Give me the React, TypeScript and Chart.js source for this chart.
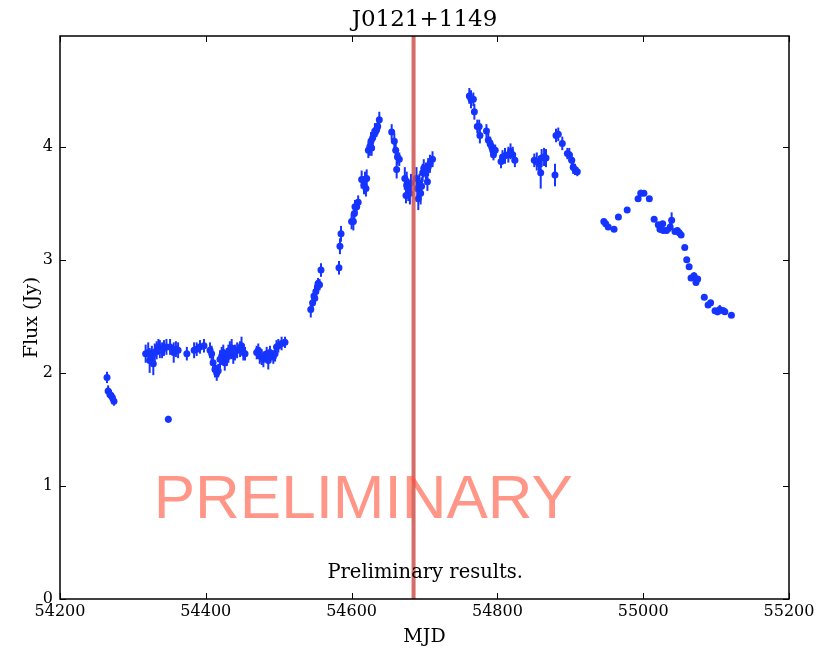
import React, { useEffect, useRef } from "react";
import { Chart, registerables } from "chart.js";

Chart.register(...registerables);

const TITLE = "J0121+1149";
const X_LABEL = "MJD";
const Y_LABEL = "Flux (Jy)";
const X_TICKS = [54200, 54400, 54600, 54800, 55000, 55200];
const Y_TICKS = [0, 1, 2, 3, 4];
const X_MIN = 54200;
const X_MAX = 55200;
const Y_MIN = 0;
const Y_MAX = 4.98;
const MARK_MJD = 54685;
const WATERMARK = "PRELIMINARY";
const WATERMARK_POS = [54616, 0.72];
const NOTE = "Preliminary results.";
const NOTE_POS = [54701, 0.19];

const MJD = [
  54264.5, 54266, 54268.5, 54270, 54272, 54274, 54348.6,
  54317.5, 54321, 54323, 54326, 54328, 54330, 54332.6, 54335, 54337, 54340, 54342.6, 54346, 54351, 54356, 54359, 54362,
  54374, 54384, 54387.5, 54392, 54397.5, 54405.8, 54408, 54410, 54412.6, 54415, 54417, 54419.5, 54421.8, 54424, 54426,
  54428.7, 54431, 54433, 54435.5, 54437.7, 54440, 54443, 54447, 54449, 54451.5, 54453.8,
  54469.8, 54472, 54474, 54476.7, 54479, 54483.5, 54485.7, 54488, 54492.6, 54495, 54497, 54499.5, 54504, 54508.6,
  54544, 54546.6, 54548.4, 54549.5, 54551, 54553, 54554, 54556, 54558, 54582.7, 54584, 54585.5,
  54600, 54602.4, 54603.8, 54604.6, 54607, 54609, 54613.8, 54617, 54618.4, 54619.7, 54620.7,
  54623, 54625, 54626.6, 54627.5, 54629, 54630.7, 54632, 54634.4, 54635.8, 54638,
  54655, 54658.6, 54660.5, 54661.8, 54663, 54665.4,
  54673, 54674.6, 54675.6, 54677.8, 54680, 54681.5, 54689, 54690, 54691.5, 54693, 54694.7, 54696, 54697.5, 54699,
  54702, 54704, 54705, 54707.5, 54711,
  54761.5, 54763.8, 54767, 54768.4, 54772.4, 54775, 54776, 54785, 54787.5, 54790, 54792, 54793.6, 54794.6, 54797,
  54805, 54807, 54810.4, 54815, 54818, 54821, 54824,
  54850.6, 54854, 54857, 54859.4, 54860.7, 54864, 54866.7, 54879, 54880.4, 54883.5, 54889, 54896, 54898.6, 54902,
  54904, 54906.4, 54909.6,
  54946, 54948.5, 54952, 54960, 54966, 54978, 54993, 54996.6, 55001, 55008.4, 55015, 55020.7, 55023, 55026.7, 55027.5,
  55032, 55037, 55039, 55043.6, 55046.8, 55049.5, 55052, 55057, 55059.7, 55063, 55065.6, 55069.7, 55072.4, 55074.7,
  55083.8, 55089, 55092.5, 55098.5, 55102, 55105, 55110, 55112, 55121,
];

const FLUX = [
  1.96, 1.84, 1.81, 1.80, 1.78, 1.75, 1.59,
  2.17, 2.18, 2.11, 2.15, 2.08, 2.18, 2.20, 2.23, 2.21, 2.20, 2.22, 2.23, 2.23, 2.18, 2.21, 2.20,
  2.17, 2.20, 2.21, 2.23, 2.24, 2.20, 2.17, 2.09, 2.03, 2.00, 2.02, 2.12, 2.15, 2.18, 2.09,
  2.14, 2.17, 2.20, 2.22, 2.15, 2.18, 2.20, 2.21, 2.24, 2.18, 2.17,
  2.18, 2.20, 2.15, 2.14, 2.12, 2.17, 2.11, 2.18, 2.14, 2.17, 2.23, 2.24, 2.26, 2.27,
  2.56, 2.62, 2.68, 2.66, 2.72, 2.76, 2.79, 2.78, 2.91, 2.93, 3.12, 3.23,
  3.34, 3.34, 3.41, 3.47, 3.47, 3.51, 3.71, 3.66, 3.71, 3.63, 3.72,
  3.97, 4.00, 4.05, 3.99, 4.08, 4.11, 4.14, 4.15, 4.18, 4.24,
  4.13, 4.05, 3.97, 3.80, 3.91, 3.89,
  3.72, 3.57, 3.66, 3.62, 3.59, 3.68, 3.72, 3.63, 3.54, 3.68, 3.59, 3.65, 3.77, 3.81,
  3.78, 3.69, 3.82, 3.85, 3.89,
  4.45, 4.42, 4.42, 4.31, 4.18, 4.18, 4.10, 4.14, 4.06, 4.03, 4.00, 3.97, 3.93, 3.97,
  3.87, 3.91, 3.92, 3.93, 3.96, 3.93, 3.88,
  3.88, 3.87, 3.85, 3.77, 3.90, 3.91, 3.90, 3.75, 4.10, 4.11, 4.03, 3.94, 3.93, 3.88,
  3.82, 3.80, 3.78,
  3.34, 3.32, 3.29, 3.27, 3.38, 3.44, 3.54, 3.59, 3.59, 3.54, 3.36, 3.31, 3.27, 3.32, 3.26,
  3.26, 3.29, 3.35, 3.25, 3.26, 3.24, 3.22, 3.11, 3.00, 2.94, 2.84, 2.86, 2.80, 2.83,
  2.67, 2.60, 2.62, 2.55, 2.54, 2.56, 2.55, 2.54, 2.51,
];

const ERR = [
  0.05, 0.05, 0.04, 0.05, 0.04, 0.04, 0.03,
  0.08, 0.09, 0.11, 0.09, 0.10, 0.08, 0.08, 0.07, 0.08, 0.07, 0.07, 0.07, 0.07, 0.09, 0.07, 0.07,
  0.06, 0.07, 0.06, 0.06, 0.06, 0.07, 0.07, 0.08, 0.07, 0.07, 0.06, 0.08, 0.08, 0.07, 0.07,
  0.08, 0.08, 0.08, 0.08, 0.07, 0.07, 0.07, 0.07, 0.08, 0.07, 0.06,
  0.06, 0.06, 0.07, 0.07, 0.07, 0.06, 0.08, 0.06, 0.06, 0.07, 0.06, 0.06, 0.06, 0.05,
  0.07, 0.06, 0.06, 0.05, 0.06, 0.06, 0.05, 0.05, 0.06, 0.06, 0.07, 0.07,
  0.07, 0.08, 0.07, 0.06, 0.06, 0.06, 0.08, 0.08, 0.07, 0.07, 0.08,
  0.07, 0.08, 0.08, 0.07, 0.07, 0.06, 0.07, 0.06, 0.07, 0.07,
  0.07, 0.07, 0.07, 0.08, 0.07, 0.06,
  0.10, 0.07, 0.12, 0.10, 0.10, 0.08, 0.10, 0.10, 0.10, 0.08, 0.10, 0.08, 0.08, 0.08,
  0.08, 0.08, 0.08, 0.08, 0.07,
  0.07, 0.08, 0.06, 0.07, 0.06, 0.06, 0.07, 0.06, 0.06, 0.06, 0.06, 0.06, 0.05, 0.05,
  0.06, 0.06, 0.07, 0.07, 0.07, 0.07, 0.06,
  0.06, 0.08, 0.07, 0.14, 0.08, 0.08, 0.08, 0.10, 0.06, 0.06, 0.06, 0.05, 0.06, 0.06,
  0.06, 0.05, 0.04,
  0.02, 0.02, 0.02, 0.02, 0.02, 0.02, 0.02, 0.03, 0.02, 0.02, 0.02, 0.02, 0.03, 0.02, 0.02,
  0.03, 0.04, 0.07, 0.02, 0.02, 0.02, 0.02, 0.02, 0.02, 0.02, 0.02, 0.03, 0.02, 0.02,
  0.02, 0.02, 0.02, 0.02, 0.03, 0.04, 0.03, 0.02, 0.02,
];

const POINT_COLOR = "rgb(22,52,255)";
const SERIF = "'DejaVu Serif', serif";

const decorPlugin = {
  id: "decor",
  beforeDatasetsDraw(chart: any) {
    const { ctx, chartArea, scales } = chart;
    const xs = scales.x;
    const ys = scales.y;
    ctx.save();
    ctx.beginPath();
    ctx.rect(chartArea.left, chartArea.top, chartArea.right - chartArea.left, chartArea.bottom - chartArea.top);
    ctx.clip();
    ctx.strokeStyle = POINT_COLOR;
    ctx.lineWidth = 2;
    for (let i = 0; i < MJD.length; i++) {
      const px = xs.getPixelForValue(MJD[i]);
      const y1 = ys.getPixelForValue(FLUX[i] - ERR[i]);
      const y2 = ys.getPixelForValue(FLUX[i] + ERR[i]);
      ctx.beginPath();
      ctx.moveTo(px, y1);
      ctx.lineTo(px, y2);
      ctx.stroke();
    }
    ctx.restore();
  },
  afterDatasetsDraw(chart: any) {
    const { ctx, chartArea, scales } = chart;
    const xs = scales.x;
    const ys = scales.y;
    ctx.save();
    const lx = xs.getPixelForValue(MARK_MJD);
    ctx.strokeStyle = "rgba(206,82,76,0.85)";
    ctx.lineWidth = 4;
    ctx.beginPath();
    ctx.moveTo(lx, chartArea.top);
    ctx.lineTo(lx, chartArea.bottom);
    ctx.stroke();
    ctx.fillStyle = "rgba(255,80,55,0.6)";
    ctx.font = "62px 'Liberation Sans', sans-serif";
    ctx.textAlign = "center";
    ctx.textBaseline = "alphabetic";
    ctx.fillText(WATERMARK, xs.getPixelForValue(WATERMARK_POS[0]), ys.getPixelForValue(WATERMARK_POS[1]));
    ctx.fillStyle = "#000";
    ctx.font = "19.5px " + SERIF;
    ctx.fillText(NOTE, xs.getPixelForValue(NOTE_POS[0]), ys.getPixelForValue(NOTE_POS[1]));
    ctx.restore();
  },
  afterDraw(chart: any) {
    const { ctx, chartArea, scales } = chart;
    const { left, right, top, bottom } = chartArea;
    const xs = scales.x;
    const ys = scales.y;
    ctx.save();
    ctx.strokeStyle = "#000";
    ctx.lineWidth = 1;
    const tl = 6;
    ctx.beginPath();
    for (const v of X_TICKS) {
      const px = Math.round(xs.getPixelForValue(v)) + 0.5;
      ctx.moveTo(px, bottom);
      ctx.lineTo(px, bottom - tl);
      ctx.moveTo(px, top);
      ctx.lineTo(px, top + tl);
    }
    for (const v of Y_TICKS) {
      const py = Math.round(ys.getPixelForValue(v)) + 0.5;
      ctx.moveTo(left, py);
      ctx.lineTo(left + tl, py);
      ctx.moveTo(right, py);
      ctx.lineTo(right - tl, py);
    }
    ctx.stroke();
    ctx.lineWidth = 1.5;
    ctx.strokeRect(left, top, right - left, bottom - top);
    ctx.fillStyle = "#000";
    ctx.textAlign = "center";
    ctx.textBaseline = "middle";
    ctx.font = "23px " + SERIF;
    ctx.fillText(TITLE, (left + right) / 2, 20);
    ctx.font = "19px " + SERIF;
    ctx.fillText(X_LABEL, (left + right) / 2, 637);
    ctx.save();
    ctx.translate(32, (top + bottom) / 2);
    ctx.rotate(-Math.PI / 2);
    ctx.fillText(Y_LABEL, 0, 0);
    ctx.restore();
    ctx.restore();
  },
};

export default function App() {
  const ref = useRef<HTMLCanvasElement | null>(null);
  useEffect(() => {
    const canvas = ref.current;
    if (!canvas) return;
    const chart = new Chart(canvas, {
      type: "scatter",
      data: {
        datasets: [
          {
            label: "flux",
            data: MJD.map((m, i) => ({ x: m, y: FLUX[i] })),
            backgroundColor: POINT_COLOR,
            borderColor: POINT_COLOR,
            borderWidth: 0,
            pointRadius: 3.5,
            pointHoverRadius: 3.5,
          },
        ],
      },
      options: {
        animation: false,
        responsive: false,
        devicePixelRatio: 1,
        events: [],
        layout: { padding: { left: 0, top: 36, right: 43, bottom: 0 } },
        plugins: {
          legend: { display: false },
          title: { display: false },
          tooltip: { enabled: false },
        },
        scales: {
          x: {
            type: "linear",
            min: X_MIN,
            max: X_MAX,
            grid: { display: false, drawTicks: false },
            border: { display: false },
            afterBuildTicks: (s: any) => {
              s.ticks = X_TICKS.map((v) => ({ value: v }));
            },
            afterFit: (s: any) => {
              s.height = 53;
            },
            ticks: {
              padding: 3,
              maxRotation: 0,
              autoSkip: false,
              color: "#000",
              font: { family: "DejaVu Serif", size: 16 },
              callback: (v: any) => String(v),
            },
          },
          y: {
            type: "linear",
            min: Y_MIN,
            max: Y_MAX,
            grid: { display: false, drawTicks: false },
            border: { display: false },
            afterBuildTicks: (s: any) => {
              s.ticks = Y_TICKS.map((v) => ({ value: v }));
            },
            afterFit: (s: any) => {
              s.width = 60;
            },
            ticks: {
              padding: 7,
              autoSkip: false,
              color: "#000",
              font: { family: "DejaVu Serif", size: 16 },
              callback: (v: any) => String(v),
            },
          },
        },
      },
      plugins: [decorPlugin],
    });
    return () => chart.destroy();
  }, []);
  return (
    <div style={{ position: "fixed", left: 0, top: 0, width: 832, height: 652, background: "#fff" }}>
      <canvas ref={ref} width={832} height={652} style={{ width: 832, height: 652, display: "block" }} />
    </div>
  );
}
